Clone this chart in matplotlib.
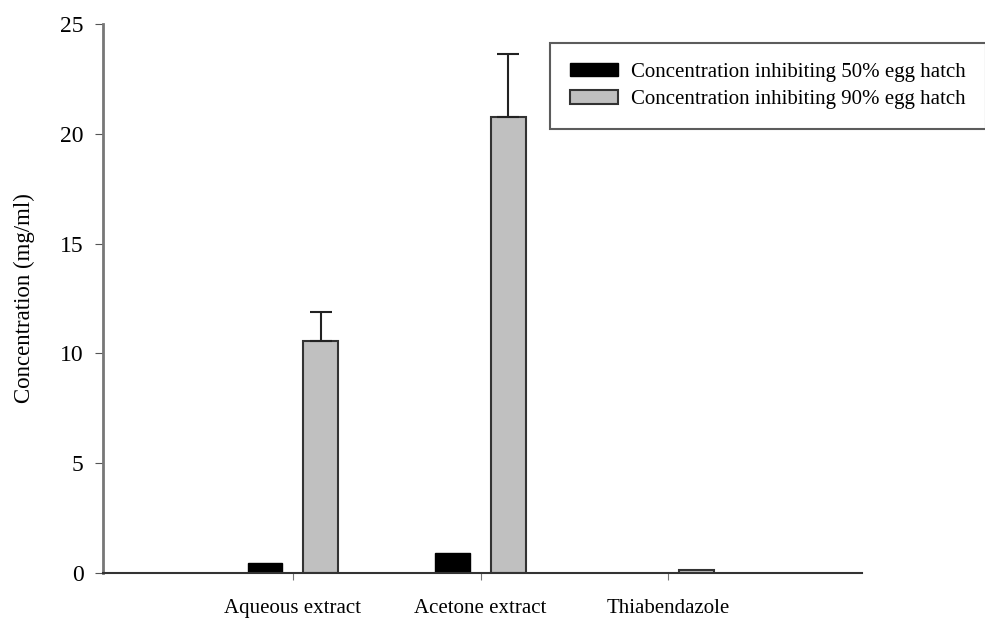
import matplotlib.pyplot as plt
import numpy as np

plt.rcParams['font.family'] = ['Liberation Serif', 'DejaVu Serif']

categories = ['Aqueous extract', 'Acetone extract', 'Thiabendazole']
ic50 = [0.45, 0.9, 0.01]
ic90 = [10.55, 20.75, 0.15]
ic90_err = [1.35, 2.9, 0.0]
legend_labels = ['Concentration inhibiting 50% egg hatch',
                 'Concentration inhibiting 90% egg hatch']

x = np.arange(len(categories))
w = 0.185
off = 0.148

fig = plt.figure(figsize=(9.85, 6.22), dpi=100)
ax = fig.add_axes([0.1046, 0.0788, 0.7705, 0.8825])

ax.bar(x - off, ic50, width=w, color='black', edgecolor='black', linewidth=1,
       label=legend_labels[0])
ax.bar(x + off, ic90, width=w, color='#c0c0c0', edgecolor='#333333', linewidth=1.5,
       label=legend_labels[1])
err_mask = np.array(ic90_err) > 0
ax.errorbar((x + off)[err_mask], np.array(ic90)[err_mask],
            yerr=[np.zeros(err_mask.sum()), np.array(ic90_err)[err_mask]],
            fmt='none', ecolor='#222222', elinewidth=1.5, capsize=8, capthick=1.5)

ax.set_xlim(-1.01, 3.03)
ax.set_ylim(0, 25)
ax.set_xticks(x)
ax.set_xticklabels(categories, fontsize=15)
ax.set_yticks([0, 5, 10, 15, 20, 25])
ax.tick_params(axis='y', labelsize=17, direction='out', length=6, pad=8, color='#555555')
ax.tick_params(axis='x', direction='out', length=5, color='#777777', pad=14)
ax.set_ylabel('Concentration (mg/ml)', fontsize=16.5, labelpad=18)

ax.spines['top'].set_visible(False)
ax.spines['right'].set_visible(False)
ax.spines['left'].set_color('#777777')
ax.spines['left'].set_linewidth(2)
ax.spines['bottom'].set_color('#333333')
ax.spines['bottom'].set_linewidth(1.5)

leg = ax.legend(loc='upper left', bbox_to_anchor=(550 / 985, 1 - 43 / 622),
                bbox_transform=fig.transFigure, fontsize=15, frameon=True,
                fancybox=False, edgecolor='#333333', handlelength=2.3,
                handleheight=0.62, handletextpad=0.65, borderpad=0.95,
                borderaxespad=0, labelspacing=0.4)
leg.get_frame().set_linewidth(1.5)

plt.savefig('out.png', dpi=100)
